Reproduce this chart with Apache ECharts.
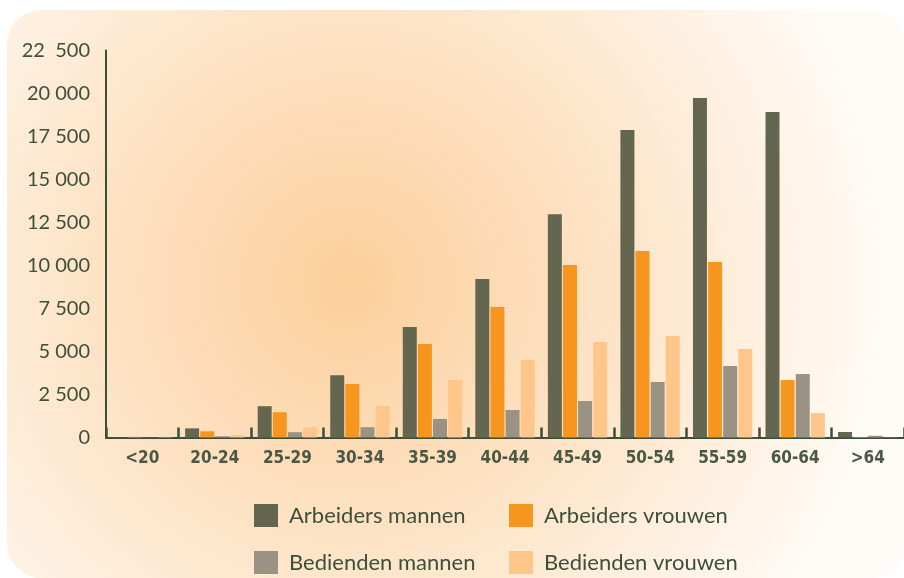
<!DOCTYPE html>
<html>
<head>
<meta charset="utf-8">
<script src="https://cdn.jsdelivr.net/npm/echarts@6/dist/echarts.min.js"></script>
<style>html,body{margin:0;padding:0;background:#fff;}#c{width:904px;height:578px;}</style>
</head>
<body>
<div id="c"></div>
<script>
const categories = ['<20','20-24','25-29','30-34','35-39','40-44','45-49','50-54','55-59','60-64','>64'];
const arbeidersMannen  = [10, 530, 1820, 3620, 6420, 9220, 12980, 17880, 19740, 18920, 320];
const arbeidersVrouwen = [40, 360, 1470, 3110, 5430, 7580, 10030, 10840, 10200, 3340, 30];
const bediendenMannen  = [10, 70, 310, 600, 1080, 1600, 2120, 3230, 4160, 3690, 100];
const bediendenVrouwen = [20, 140, 600, 1830, 3340, 4510, 5550, 5900, 5150, 1420, 10];
const yTickLabels = ['0','2 500','5 000','7 500','10 000','12 500','15 000','17 500','20 000','22  500'];
const seriesNames = ['Arbeiders mannen','Arbeiders vrouwen','Bedienden mannen','Bedienden vrouwen'];

const colors = ['#656650','#f7961e','#9a9282','#fec68a'];
const txt = '#3d4f3a';
const chart = echarts.init(document.getElementById('c'), null, {renderer:'canvas'});

const seriesData = [arbeidersMannen, arbeidersVrouwen, bediendenMannen, bediendenVrouwen];
const legendPos = [[254,504],[509,504],[254,551],[509,551]];

chart.setOption({
  animation: false,
  graphic: [{
    type: 'rect', z: -10, silent: true,
    shape: {x: 7, y: 10, width: 898, height: 568, r: 34},
    style: {
      fill: new echarts.graphic.RadialGradient(0.38, 0.48, 0.95, [
        {offset: 0, color: '#fccf9b'},
        {offset: 0.45, color: '#fde2c3'},
        {offset: 1, color: '#fffbf6'}
      ])
    }
  }],
  grid: {left: 106, top: 50.5, width: 800, height: 387},
  legend: seriesNames.map((n, i) => ({
    data: [n], left: legendPos[i][0], top: legendPos[i][1], padding: 0,
    icon: 'rect', itemWidth: 24, itemHeight: 23, selectedMode: false,
    textStyle: {fontFamily: 'Lato', fontSize: 22, color: txt, padding: [7,0,0,6]}
  })),
  xAxis: {
    type: 'category', data: categories,
    axisLine: {lineStyle: {color: txt, width: 2}},
    axisTick: {show: true, inside: true, length: 10, lineStyle: {color: txt, width: 2.5}},
    axisLabel: {fontFamily: "'DejaVu Sans Condensed',sans-serif", fontWeight: 'bold',
      fontSize: 17, color: '#4a5844', margin: 13, interval: 0}
  },
  yAxis: {
    type: 'value', min: 0, max: 22500, interval: 2500,
    splitLine: {show: false},
    axisTick: {show: false},
    axisLine: {show: true, lineStyle: {color: txt, width: 2}},
    axisLabel: {fontFamily: 'Lato', fontSize: 20, color: txt, margin: 16,
      formatter: v => yTickLabels[Math.round(v / 2500)]}
  },
  series: seriesNames.map((n, i) => ({
    name: n, type: 'bar', data: seriesData[i], barWidth: 14, barGap: '8%',
    itemStyle: {color: colors[i]}
  }))
});
</script>
</body>
</html>
